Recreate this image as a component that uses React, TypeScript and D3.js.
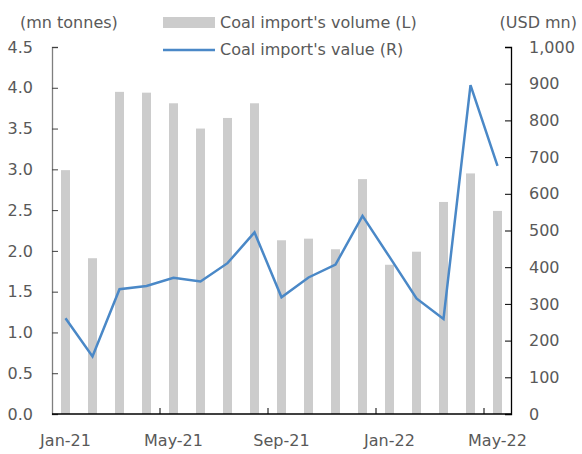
import React, { useEffect, useRef } from "react";
import * as d3 from "d3";

const months = [
  "Jan-21", "Feb-21", "Mar-21", "Apr-21", "May-21", "Jun-21", "Jul-21", "Aug-21",
  "Sep-21", "Oct-21", "Nov-21", "Dec-21", "Jan-22", "Feb-22", "Mar-22", "Apr-22", "May-22"
];
// mn tonnes (left axis)
const volume = [2.99, 1.91, 3.95, 3.94, 3.81, 3.5, 3.63, 3.81, 2.13, 2.15, 2.02, 2.88, 1.83, 1.99, 2.6, 2.95, 2.49];
// USD mn (right axis)
const value = [261, 157, 340, 349, 371, 361, 411, 495, 318, 372, 407, 540, 428, 315, 259, 896, 676];

const leftTicks = [0, 0.5, 1, 1.5, 2, 2.5, 3, 3.5, 4, 4.5];
const rightTicks = [0, 100, 200, 300, 400, 500, 600, 700, 800, 900, 1000];
const labelMonths = ["Jan-21", "May-21", "Sep-21", "Jan-22", "May-22"];

const App: React.FC = () => {
  const svgRef = useRef<SVGSVGElement>(null);

  useEffect(() => {
    if (!svgRef.current) return;
    const width = 582;
    const height = 454;
    const margin = { top: 47, right: 71, bottom: 40, left: 52 };
    const innerW = width - margin.left - margin.right;
    const innerH = height - margin.top - margin.bottom;
    const font = "'DejaVu Sans', Verdana, sans-serif";
    const textColor = "#595959";

    const svg = d3.select(svgRef.current);
    svg.selectAll("*").remove();
    svg.attr("width", width).attr("height", height);

    const g = svg.append("g").attr("transform", `translate(${margin.left},${margin.top})`);

    const x = d3.scaleBand().domain(months).range([0, innerW]).padding(0);
    const yL = d3.scaleLinear().domain([0, 4.5]).range([innerH, 0]);
    const yR = d3.scaleLinear().domain([0, 1000]).range([innerH, 0]);

    const barW = 9;

    // BARS
    g.selectAll("rect.bar")
      .data(months)
      .enter()
      .append("rect")
      .attr("class", "bar")
      .attr("x", (d) => x(d)! + x.bandwidth() / 2 - barW / 2)
      .attr("y", (_d, i) => yL(volume[i]))
      .attr("width", barW)
      .attr("height", (_d, i) => innerH - yL(volume[i]))
      .attr("fill", "#cccccc");

    // LINE
    const line = d3
      .line<number>()
      .x((_d, i) => x(months[i])! + x.bandwidth() / 2)
      .y((d) => yR(d));

    g.append("path")
      .datum(value)
      .attr("d", line)
      .attr("fill", "none")
      .attr("stroke", "#4a88c7")
      .attr("stroke-width", 2.5)
      .attr("stroke-linejoin", "miter");

    // LEFT AXIS
    const left = g
      .append("g")
      .call(
        d3.axisLeft(yL)
          .tickValues(leftTicks)
          .tickSize(-6)
          .tickPadding(19)
          .tickFormat((d) => d3.format(".1f")(d as number))
      );
    left.select(".domain").attr("stroke", "#7f7f7f").attr("stroke-width", 1.3);
    left.selectAll(".tick line").attr("stroke", "#404040");
    left.selectAll("text")
      .attr("fill", textColor)
      .style("font-family", font)
      .style("font-size", "16px");

    // RIGHT AXIS
    const right = g
      .append("g")
      .attr("transform", `translate(${innerW},0)`)
      .call(
        d3.axisRight(yR)
          .tickValues(rightTicks)
          .tickSize(-6)
          .tickPadding(18)
          .tickFormat((d) => d3.format(",")(d as number))
      );
    right.select(".domain").attr("stroke", "#000").attr("stroke-width", 1.3);
    right.selectAll(".tick line").attr("stroke", "#000");
    right.selectAll("text")
      .attr("fill", textColor)
      .style("font-family", font)
      .style("font-size", "16px");

    // BOTTOM AXIS
    const bottom = g.append("g").attr("transform", `translate(0,${innerH})`);
    bottom
      .append("line")
      .attr("x1", 0)
      .attr("x2", innerW)
      .attr("stroke", "#000")
      .attr("stroke-width", 1.3);
    bottom
      .selectAll("line.tk")
      .data(labelMonths.slice(1))
      .enter()
      .append("line")
      .attr("class", "tk")
      .attr("x1", (d) => x(d)!)
      .attr("x2", (d) => x(d)!)
      .attr("y1", 0)
      .attr("y2", -6)
      .attr("stroke", "#000");
    bottom
      .selectAll("text")
      .data(labelMonths)
      .enter()
      .append("text")
      .attr("x", (d) => x(d)! + x.bandwidth() / 2)
      .attr("y", 32)
      .attr("text-anchor", "middle")
      .attr("fill", textColor)
      .style("font-family", font)
      .style("font-size", "16px")
      .text((d) => d);

    // UNIT LABELS
    svg.append("text")
      .attr("x", 20)
      .attr("y", 28)
      .attr("fill", textColor)
      .style("font-family", font)
      .style("font-size", "16px")
      .text("(mn tonnes)");
    svg.append("text")
      .attr("x", 577)
      .attr("y", 28)
      .attr("text-anchor", "end")
      .attr("fill", textColor)
      .style("font-family", font)
      .style("font-size", "16px")
      .text("(USD mn)");

    // LEGEND
    svg.append("rect")
      .attr("x", 163)
      .attr("y", 17)
      .attr("width", 52)
      .attr("height", 11)
      .attr("fill", "#cccccc");
    svg.append("text")
      .attr("x", 220)
      .attr("y", 28)
      .attr("fill", textColor)
      .style("font-family", font)
      .style("font-size", "16px")
      .text("Coal import's volume (L)");
    svg.append("line")
      .attr("x1", 163)
      .attr("x2", 215)
      .attr("y1", 50)
      .attr("y2", 50)
      .attr("stroke", "#4a88c7")
      .attr("stroke-width", 2.5);
    svg.append("text")
      .attr("x", 220)
      .attr("y", 55)
      .attr("fill", textColor)
      .style("font-family", font)
      .style("font-size", "16px")
      .text("Coal import's value (R)");
  }, []);

  return <svg ref={svgRef} style={{ position: "absolute", left: 0, top: 0 }}></svg>;
};

export default App;
